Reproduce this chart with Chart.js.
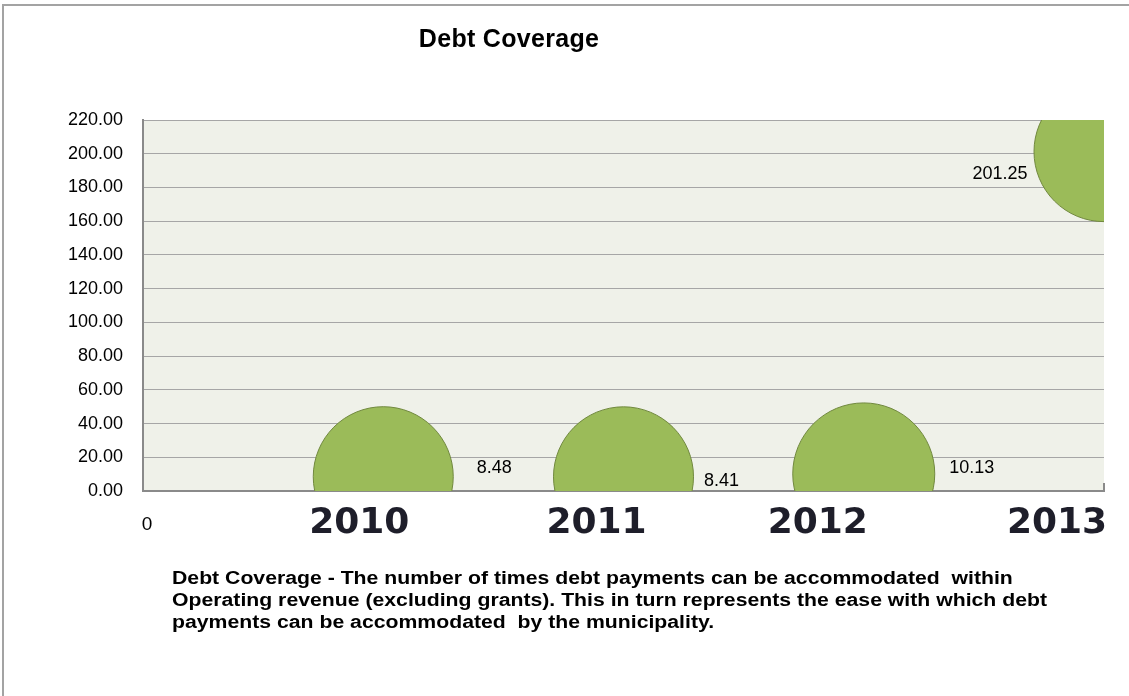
<!DOCTYPE html>
<html>
<head>
<meta charset="utf-8">
<title>Debt Coverage</title>
<script src="https://cdn.jsdelivr.net/npm/chart.js@4.4.1/dist/chart.umd.min.js"></script>
<style>
  html, body { margin:0; padding:0; background:#fff; }
  #wrap { position:relative; width:1129px; height:696px; overflow:hidden; }
  #frame { position:absolute; left:2px; top:4px; width:1140px; height:700px;
           border-top:2px solid #a3a3a3; border-left:2px solid #a3a3a3; }
  #title { position:absolute; left:0; top:24px; width:1018px; text-align:center;
           font:bold 25px "Liberation Sans", Arial, sans-serif; color:#000; letter-spacing:0.3px; }
  #note { position:absolute; left:172px; top:567px; white-space:nowrap;
          font:bold 18px "Liberation Sans", Arial, sans-serif; line-height:22px; color:#000;
          transform-origin:0 0; }
  canvas { position:absolute; left:0; top:0; }
</style>
</head>
<body>
<div id="wrap">
  <div id="frame"></div>
  <canvas id="chartDebt" width="1129" height="696"></canvas>
  <div id="title">Debt Coverage</div>
  <div id="note">Debt Coverage - The number of times debt payments can be accommodated&nbsp; within<br>Operating revenue (excluding grants). This in turn represents the ease with which debt<br>payments can be accommodated&nbsp; by the municipality.</div>
</div>
<script>
// data
const years = ['2010', '2011', '2012', '2013'];
const coverage = [8.48, 8.41, 10.13, 201.25];
const yTicks = { min: 0, max: 220, step: 20 };

// look only
const bubbleR = [70, 70, 71, 70];
const labelShift = [[111, -9], [98, 4], [108, -6], [-104, 22]];
const yearShift = [-24, -27, -46, -47];

// stretch the footnote so its first line spans like the picture
(function(){
  const note = document.getElementById('note');
  const w = note.getBoundingClientRect().width;
  note.style.transform = 'scaleX(' + (875 / w) + ')';
})();

const plotBg = {
  id: 'plotBg',
  beforeDraw(chart){
    const a = chart.chartArea, ctx = chart.ctx;
    ctx.save();
    ctx.fillStyle = '#eff1e9';
    ctx.fillRect(a.left, a.top, a.right - a.left, a.bottom - a.top);
    ctx.restore();
  }
};

const valueLabels = {
  id: 'valueLabels',
  afterDatasetsDraw(chart){
    const ctx = chart.ctx;
    const pts = chart.getDatasetMeta(0).data;
    ctx.save();
    ctx.font = '18px "Liberation Sans", Arial, sans-serif';
    ctx.fillStyle = '#000';
    ctx.textAlign = 'center';
    ctx.textBaseline = 'middle';
    pts.forEach((p, i) => {
      ctx.fillText(coverage[i].toFixed(2), p.x + labelShift[i][0], p.y + labelShift[i][1]);
    });
    ctx.restore();
  }
};

const yearLabels = {
  id: 'yearLabels',
  afterDraw(chart){
    const ctx = chart.ctx, xs = chart.scales.x;
    ctx.save();
    ctx.font = 'bold 36px "DejaVu Sans", Verdana, sans-serif';
    ctx.fillStyle = '#1e1e2a';
    ctx.textAlign = 'center';
    ctx.textBaseline = 'middle';
    years.forEach((y, i) => {
      ctx.fillText(y, xs.getPixelForValue(i + 1) + yearShift[i], 524);
    });
    // small tick at the right end of the x axis
    const a = chart.chartArea;
    ctx.strokeStyle = '#8a8a8a';
    ctx.lineWidth = 2;
    ctx.beginPath();
    ctx.moveTo(a.right, a.bottom - 8);
    ctx.lineTo(a.right, a.bottom);
    ctx.stroke();
    ctx.restore();
  }
};

const ctx = document.getElementById('chartDebt').getContext('2d');
window.chartDebt = new Chart(ctx, {
  type: 'bubble',
  data: {
    datasets: [{
      label: 'Debt Coverage',
      data: coverage.map((v, i) => ({ x: i + 1, y: v })),
      radius: c => bubbleR[c.dataIndex],
      backgroundColor: '#9bbb59',
      borderColor: '#71893f',
      borderWidth: 1,
      clip: 0
    }]
  },
  options: {
    responsive: false,
    animation: false,
    layout: { autoPadding: false, padding: { top: 120, right: 25, left: 0, bottom: 0 } },
    plugins: { legend: { display: false }, tooltip: { enabled: false }, title: { display: false } },
    scales: {
      x: {
        type: 'linear', min: 0, max: years.length,
        afterFit: s => { s.height = 205; s.paddingLeft = 0; s.paddingRight = 0; },
        grid: { display: false, drawTicks: false },
        border: { display: true, color: '#8a8a8a', width: 2 },
        ticks: {
          stepSize: 1, padding: 22, color: '#000', labelOffset: 4,
          font: { family: '"Liberation Sans", Arial, sans-serif', size: 19 },
          callback: v => v === 0 ? '0' : ''
        }
      },
      y: {
        min: yTicks.min, max: yTicks.max,
        afterFit: s => { s.width = 143; s.paddingTop = 0; s.paddingBottom = 0; },
        grid: { color: '#a6a6a6', lineWidth: 1, drawTicks: false },
        border: { display: true, color: '#8a8a8a', width: 2 },
        ticks: {
          stepSize: yTicks.step, padding: 20, color: '#000',
          font: { family: '"Liberation Sans", Arial, sans-serif', size: 18 },
          callback: v => Number(v).toFixed(2)
        }
      }
    }
  },
  plugins: [plotBg, valueLabels, yearLabels]
});
</script>
</body>
</html>
